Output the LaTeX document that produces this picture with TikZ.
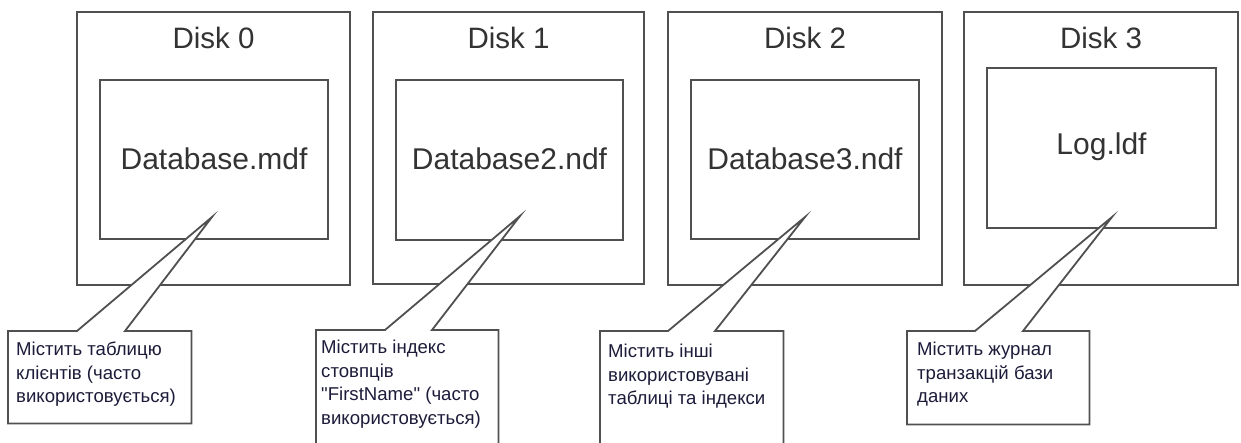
\documentclass[tikz,border=0pt]{standalone}
\usepackage{fontspec}
\setmainfont{Liberation Sans}[Ligatures=TeXOff]
\usetikzlibrary{calc}
\definecolor{edge}{RGB}{80,80,80}
\definecolor{titleink}{RGB}{51,51,51}
\definecolor{noteink}{RGB}{28,28,58}
\tikzset{
  frame/.style={draw=edge, line width=1.8pt, fill=none},
  disktitle/.style={font=\fontsize{29.5}{31}\selectfont, text=titleink, inner sep=0pt},
  filelabel/.style={font=\fontsize{30}{32}\selectfont, text=titleink, inner sep=0pt},
  notebox/.style={inner sep=0pt, anchor=north west},
  notetext/.style={font=\fontsize{18.6}{23.5}\selectfont, text=noteink, inner sep=0pt,
                   anchor=north west, align=left},
  outline/.style={draw=edge, line width=1.8pt, fill=white, line join=miter, miter limit=30}
}
\begin{document}
\begin{tikzpicture}[x=1pt, y=-1pt]
\useasboundingbox (0,0) rectangle (1241,443);
\clip (0,0) rectangle (1241,443);
\fill[white] (0,0) rectangle (1241,443);

% ---- disks and the files they hold ----
\draw[frame] (77,12) rectangle (350,285);
\draw[frame] (100,80) rectangle (328,239);
\node[disktitle] (d0) at (213.5,38) {Disk 0};
\node[filelabel] (f0) at (214,159) {Database.mdf};

\draw[frame] (373,12) rectangle (644,284);
\draw[frame] (396,80) rectangle (623,240);
\node[disktitle] (d1) at (508.5,38) {Disk 1};
\node[filelabel] (f1) at (509.5,159) {Database2.ndf};

\draw[frame] (668,12) rectangle (942,285);
\draw[frame] (691,80) rectangle (919,239);
\node[disktitle] (d2) at (805,38) {Disk 2};
\node[filelabel] (f2) at (805,159) {Database3.ndf};

\draw[frame] (964,12) rectangle (1238,285);
\draw[frame] (987,68) rectangle (1216,228);
\node[disktitle] (d3) at (1101,38) {Disk 3};
\node[filelabel] (f3) at (1101.5,147) {Log.ldf};

% ---- pointer tips ----
\coordinate (p0) at (212,217);
\coordinate (p1) at (520,216);
\coordinate (p2) at (805,217);
\coordinate (p3) at (1112,217);

% ---- callout boxes ----
\node[notebox, minimum width=183pt, minimum height=92pt] (n0) at (8,331) {};
\node[notebox, minimum width=182pt, minimum height=140pt] (n1) at (316,330) {};
\node[notebox, minimum width=183pt, minimum height=140pt] (n2) at (600,331) {};
\node[notebox, minimum width=182pt, minimum height=93pt] (n3) at (907,331) {};

\draw[outline] (n0.north west) -- ++(69,0) -- (p0) -- ($(n0.north west)+(117,0)$)
  -- (n0.north east) -- (n0.south east) -- (n0.south west) -- cycle;
\draw[outline] (n1.north west) -- ++(69,0) -- (p1) -- ($(n1.north west)+(116,0)$)
  -- (n1.north east) -- (n1.south east) -- (n1.south west) -- cycle;
\draw[outline] (n2.north west) -- ++(68,0) -- (p2) -- ($(n2.north west)+(115,0)$)
  -- (n2.north east) -- (n2.south east) -- (n2.south west) -- cycle;
\draw[outline] (n3.north west) -- ++(68,0) -- (p3) -- ($(n3.north west)+(116,0)$)
  -- (n3.north east) -- (n3.south east) -- (n3.south west) -- cycle;

\node[notetext] (t0) at ($(n0.north west)+(8,11)$)
  {Містить таблицю\\клієнтів (часто\\використовується)};
\node[notetext] (t1) at ($(n1.north west)+(5,10)$)
  {Містить індекс\\стовпців\\"FirstName" (часто\\використовується)};
\node[notetext] (t2) at ($(n2.north west)+(8,13)$)
  {Містить інші\\використовувані\\таблиці та індекси};
\node[notetext] (t3) at ($(n3.north west)+(10,11)$)
  {Містить журнал\\транзакцій бази\\даних};
\end{tikzpicture}
\end{document}
